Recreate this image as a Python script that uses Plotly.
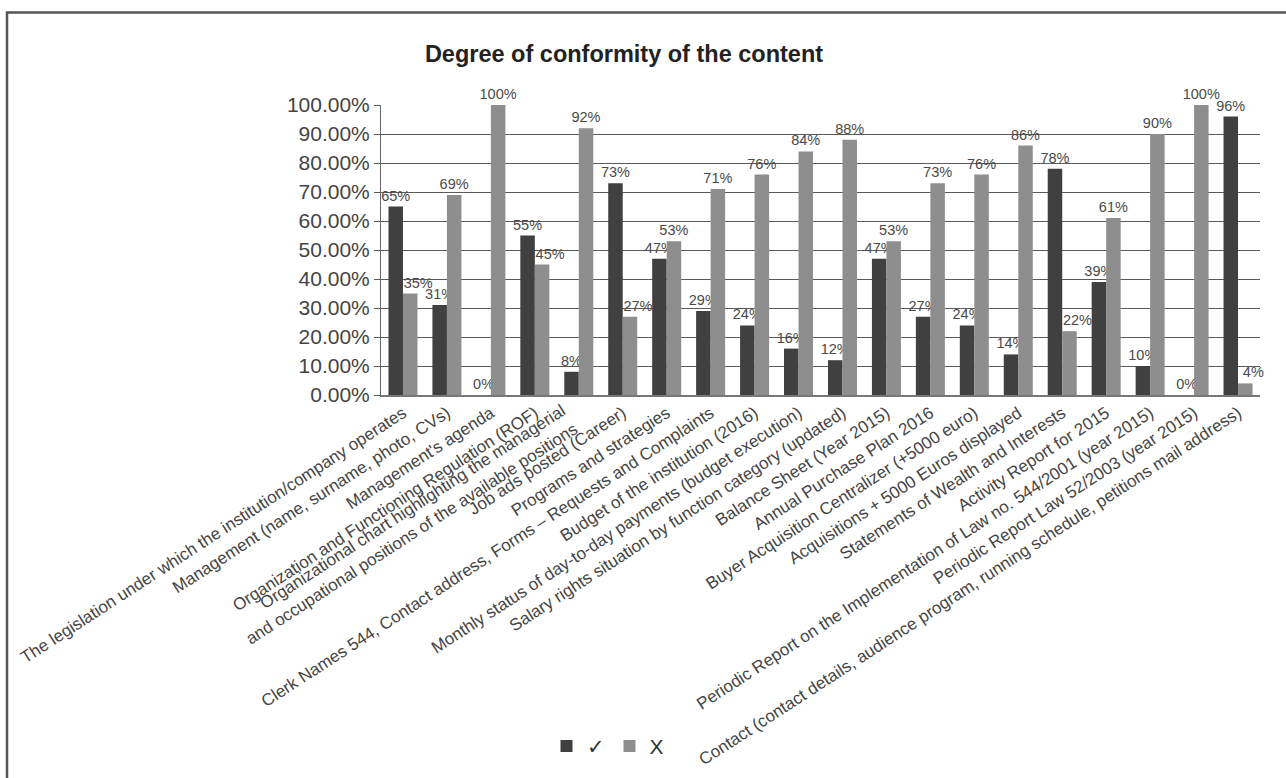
import plotly.graph_objects as go

categories = [
    "The legislation under which the institution/company operates",
    "Management (name, surname, photo, CVs)",
    "Management's agenda",
    "Organization and Functioning Regulation (ROF)",
    "Organizational chart highlighting the managerial<br>and occupational positions of the available positions",
    "Job ads posted (Career)",
    "Programs and strategies",
    "Clerk Names 544, Contact address, Forms \u2013 Requests and Complaints",
    "Budget of the institution (2016)",
    "Monthly status of day-to-day payments (budget execution)",
    "Salary rights situation by function category (updated)",
    "Balance Sheet (Year 2015)",
    "Annual Purchase Plan 2016",
    "Buyer Acquisition Centralizer (+5000 euro)",
    "Acquisitions + 5000 Euros displayed",
    "Statements of Wealth and Interests",
    "Activity Report for 2015",
    "Periodic Report on the Implementation of Law no. 544/2001 (year 2015)",
    "Periodic Report Law 52/2003 (year 2015)",
    "Contact (contact details, audience program, running schedule, petitions mail address)",
]
check_values = [65, 31, 0, 55, 8, 73, 47, 29, 24, 16, 12, 47, 27, 24, 14, 78, 39, 10, 0, 96]
x_values = [35, 69, 100, 45, 92, 27, 53, 71, 76, 84, 88, 53, 73, 76, 86, 22, 61, 90, 100, 4]
series_names = ["\u2713", "X"]
y_tickvals = [0, 10, 20, 30, 40, 50, 60, 70, 80, 90, 100]
y_ticktext = ["%.2f%%" % v for v in y_tickvals]

FONT = "Liberation Sans, Arial, sans-serif"
DARK = "#404040"
LIGHT = "#8e8e8e"
TICK_ANGLE = -33
TICK_SIZE = 17
NB = "\u00a0"

W, H = 1286, 778
ML, MR, MT, MB = 381, 26, 105, 375
PW = W - ML - MR
PH = H - MT - MB

# labels of light bars standing next to a taller dark bar are nudged right (as in the original)
check_labels = [f"{v}%" for v in check_values]
x_labels = [(NB * 4 + f"{v}%") if v < c else f"{v}%" for v, c in zip(x_values, check_values)]

fig = go.Figure()
for name, vals, labels, col in [(series_names[0], check_values, check_labels, DARK),
                                (series_names[1], x_values, x_labels, LIGHT)]:
    fig.add_trace(go.Bar(
        name=name, x=categories, y=vals, marker=dict(color=col, line=dict(width=0)),
        text=labels, textposition="outside", constraintext="none",
        textfont=dict(family=FONT, size=14.5, color="#4a4a4a"),
        cliponaxis=False,
    ))

# multi-line category labels are drawn as rotated annotations (last line anchored at the tick)
tick_text = []
for c in categories:
    if "<br>" in c:
        tick_text.append("")
        fig.add_annotation(x=c, xref="x", y=0, yref="paper", text=c, showarrow=False,
                           textangle=TICK_ANGLE, xanchor="right", yanchor="top", align="right",
                           yshift=-3, xshift=5,
                           font=dict(family=FONT, size=TICK_SIZE, color="#444444"))
    else:
        tick_text.append(c)


def px_x(x):
    return (x - ML) / PW


def px_y(y):
    return (H - MB - y) / PH


fig.add_shape(type="path", xref="paper", yref="paper",
              path=f"M {px_x(7)} {px_y(800)} L {px_x(7)} {px_y(10)} L {px_x(1300)} {px_y(10)}",
              line=dict(color="#555555", width=2.5))

fig.update_layout(
    width=W, height=H,
    margin=dict(l=ML, r=MR, t=MT, b=MB),
    paper_bgcolor="white", plot_bgcolor="white",
    barmode="group", bargap=0.34, bargroupgap=0,
    title=dict(text="<b>Degree of conformity of the content</b>", x=624 / W, xref="container",
               xanchor="center", y=1 - 54 / H, yanchor="middle", yref="container",
               font=dict(family=FONT, size=23.5, color="#222222")),
    font=dict(family=FONT, color="#444444"),
    showlegend=True,
    legend=dict(orientation="h", xanchor="center", x=px_x(608), yanchor="middle", y=px_y(764),
                font=dict(family=FONT, size=21, color="#333333"), itemwidth=30,
                bgcolor="rgba(0,0,0,0)"),
    xaxis=dict(type="category", categoryorder="array", categoryarray=categories,
               range=[-0.5, len(categories) - 0.5], autorange=False,
               tickmode="array", tickvals=categories, ticktext=tick_text,
               tickangle=TICK_ANGLE, tickfont=dict(family=FONT, size=TICK_SIZE, color="#444444"),
               showline=True, linecolor="#777777", linewidth=1.5, ticks="", showgrid=False,
               automargin=False),
    yaxis=dict(range=[0, 100], tickvals=y_tickvals, ticktext=y_ticktext,
               tickfont=dict(family=FONT, size=21, color="#444444"),
               showgrid=True, gridcolor="#5a5a5a", gridwidth=1,
               showline=True, linecolor="#666666", linewidth=1,
               ticks="outside", ticklen=6, tickcolor="#5a5a5a", zeroline=False,
               automargin=False),
)

fig.write_html("out.html")
